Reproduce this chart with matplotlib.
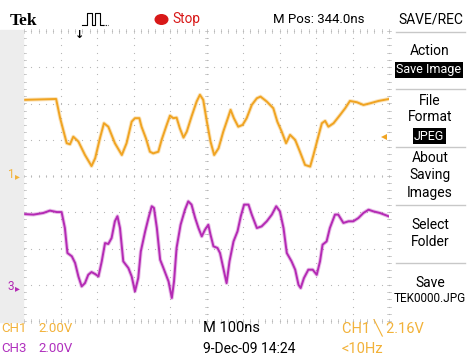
import numpy as np
import matplotlib.pyplot as plt
from matplotlib.lines import Line2D
from matplotlib.patches import Rectangle, Circle

# channel 1 trace: time (ns) and voltage (V)
ch1_t = [0, 88, 99, 117, 126, 135, 149, 167, 185, 195, 208, 219, 231, 249, 268, 281,
         295, 304, 316, 322, 334, 345, 354, 368, 377, 391, 400, 409, 418, 427, 437,
         446, 459, 473, 482, 491, 501, 511, 521, 533, 546, 560, 566, 575, 587, 599,
         610, 624, 638, 648, 665, 683, 694, 706, 718, 729, 743, 756, 770, 784, 793,
         805, 816, 825, 834, 848, 866, 880, 893, 912, 930, 948, 971, 1000]
ch1_v = [4.20, 4.25, 3.19, 1.81, 1.75, 2.17, 1.90, 1.16, 0.55, 0.98, 2.08, 2.91, 2.72,
         1.81, 1.16, 1.81, 3.00, 3.19, 3.19, 2.72, 2.08, 1.34, 1.25, 1.34, 1.99, 2.82,
         3.33, 3.19, 3.22, 2.63, 2.12, 2.45, 3.28, 4.11, 4.48, 4.20, 3.00, 1.90, 1.16,
         1.53, 2.45, 3.28, 3.65, 3.19, 2.72, 2.82, 3.19, 3.92, 4.29, 4.38, 4.11, 3.74,
         3.00, 2.45, 1.81, 2.27, 1.99, 1.34, 0.61, 0.52, 1.16, 2.08, 2.91, 3.04, 2.72,
         2.91, 3.37, 3.74, 4.14, 4.07, 3.92, 4.01, 4.14, 4.25]

# channel 3 trace
ch3_t = [0, 26, 53, 71, 90, 103, 112, 119, 131, 140, 149, 158, 167, 176, 185, 195,
         204, 213, 222, 231, 240, 249, 256, 263, 272, 286, 295, 304, 313, 320, 332,
         341, 350, 356, 364, 373, 382, 396, 405, 411, 418, 429, 441, 450, 459, 469,
         478, 487, 496, 505, 511, 519, 530, 537, 546, 555, 563, 574, 585, 594, 603,
         615, 624, 638, 651, 665, 679, 691, 701, 711, 720, 733, 743, 752, 758, 767,
         779, 791, 802, 811, 818, 829, 838, 852, 861, 875, 889, 902, 916, 930, 944,
         957, 975, 1000]
ch3_v = [3.90, 3.87, 3.96, 4.09, 4.01, 4.01, 3.13, 1.75, 1.57, 1.20, 0.46, -0.09, 0.09,
         0.55, 0.70, 0.59, 0.46, 1.29, 2.30, 2.25, 2.58, 3.50, 3.78, 3.13, 1.29, 0.92,
         0.46, -0.37, 0.37, 1.84, 2.95, 3.68, 4.33, 4.24, 3.13, 1.38, 0.92, 0.18, -0.73,
         0.18, 2.03, 3.31, 4.14, 4.60, 4.42, 3.68, 3.13, 2.67, 3.04, 3.31, 2.76, 2.12,
         2.03, 1.75, 0.92, 0.09, 1.29, 2.39, 2.95, 3.78, 4.42, 4.42, 3.87, 3.13, 3.22,
         3.50, 3.87, 4.33, 4.05, 3.13, 1.75, 1.29, 0.83, 0.00, -0.18, 0.37, 0.83, 0.83,
         0.55, 1.29, 2.21, 2.39, 3.13, 3.87, 3.87, 3.41, 3.50, 3.50, 3.68, 3.96, 4.14,
         4.05, 3.96, 3.77]

volts_per_div = 2.0
ns_per_div = 100
ch1_offset = 0      # ground marker position, in divisions from centre
ch3_offset = -3
trig_level = 2.16

ch1_color = '#F0A422'
ch3_color = '#B42AB4'
ch1_text = '#F2B23A'
ch3_text = '#B030BE'
grid_color = '#B8B8B8'

W, H = 470, 358
font = ['Roboto', 'DejaVu Sans']

fig = plt.figure(figsize=(W / 100, H / 100), dpi=100)
fig.patch.set_facecolor('white')


def fx(x):
    return x / W


def fy(y):
    return 1 - y / H


def label(x, y, s, size=9, color='black', ha='left', **kw):
    fig.text(fx(x), fy(y), s, fontsize=size, color=color, ha=ha, va='center',
             family=font, **kw)


# grey strip to the left of the graticule
fig.patches.append(Rectangle((0, fy(322)), fx(23), fy(30) - fy(322),
                             transform=fig.transFigure, color='#EDEDED', zorder=0))

# graticule: 10 x 8 divisions
ax = fig.add_axes([fx(24), fy(321), fx(389) - fx(24), fy(31) - fy(321)])
ax.set_xlim(0, 10)
ax.set_ylim(-4, 4)
ax.set_facecolor('white')
for s in ax.spines.values():
    s.set_visible(False)
ax.set_xticks([])
ax.set_yticks([])

minor = np.arange(0, 10.01, 0.2)
minor_y = np.arange(-4, 4.01, 0.2)
for gy in range(-4, 5):
    ax.plot(minor, np.full_like(minor, gy), ls='none', marker='s', ms=0.8,
            color=grid_color, mew=0, clip_on=False)
for gx in range(0, 11):
    ax.plot(np.full_like(minor_y, gx), minor_y, ls='none', marker='s', ms=0.8,
            color=grid_color, mew=0, clip_on=False)
# tick marks along the border and the centre lines
for gy, ln in [(-4, 0.1), (4, 0.1), (0, 0.08)]:
    for mx in minor:
        ax.plot([mx, mx], [gy - ln / 2, gy + ln / 2], color=grid_color, lw=0.5,
                clip_on=False)
for gx, ln in [(0, 0.1), (10, 0.1), (5, 0.08)]:
    for my in minor_y:
        ax.plot([gx - ln / 2, gx + ln / 2], [my, my], color=grid_color, lw=0.5,
                clip_on=False)

# traces, with a soft halo for the phosphor look
t1 = np.array(ch1_t) / ns_per_div
t3 = np.array(ch3_t) / ns_per_div
y1 = np.array(ch1_v) / volts_per_div + ch1_offset
y3 = np.array(ch3_v) / volts_per_div + ch3_offset
for t, y, c in [(t1, y1, ch1_color), (t3, y3, ch3_color)]:
    ax.plot(t, y, color=c, lw=2.8, alpha=0.3, solid_joinstyle='round')
    ax.plot(t, y, color=c, lw=1.4, solid_joinstyle='round')

# trigger level arrow on the right edge
ax.plot(9.85, trig_level / volts_per_div + ch1_offset, marker='<', ms=5,
        color=ch1_color, mew=0, clip_on=False)

# ground markers
label(8, 175, '1', 8.5, ch1_text)
fig.text(fx(15), fy(176), '▸', fontsize=7, color=ch1_text, va='center',
         family='DejaVu Sans')
label(8, 287, '3', 8.5, ch3_color)
fig.text(fx(15), fy(288), '▸', fontsize=7, color=ch3_color, va='center',
         family='DejaVu Sans')

# top status bar
fig.text(fx(10), fy(21), 'Tek', fontsize=12.5, fontweight='bold',
         family=['Liberation Serif', 'DejaVu Serif'], va='center')
pulse_x = [82, 87, 87, 92, 92, 95, 95, 100, 100, 103]
pulse_y = [25, 25, 13, 13, 25, 25, 13, 13, 25, 25]
fig.lines.append(Line2D([fx(v) for v in pulse_x], [fy(v) for v in pulse_y],
                        transform=fig.transFigure, color='black', lw=0.8))
fig.lines.append(Line2D([fx(103), fx(108)], [fy(25), fy(25)], transform=fig.transFigure,
                        color='black', lw=0.8, ls=(0, (1, 1))))
fig.text(fx(80), fy(35), '↓', fontsize=8, fontweight='bold', ha='center', va='center',
         family='DejaVu Sans')
fig.patches.append(Circle((fx(161.5), fy(19.5)), 6.3 / W, transform=fig.transFigure,
                          color='#D81818'))
label(172, 19.5, 'Stop', 9.8, '#D81818')
label(273, 19.5, 'M Pos: 344.0ns', 9.5)
label(431, 19.5, 'SAVE/REC', 10, ha='center')

# side menu
sep_y = [32, 89, 147, 205, 263]
for sy in sep_y:
    fig.lines.append(Line2D([fx(396), fx(465)], [fy(sy), fy(sy)],
                            transform=fig.transFigure, color='#C8C8C8', lw=1.0))
label(430, 51, 'Action', 10, ha='center')
label(429, 70, 'Save Image', 9, 'white', ha='center',
      bbox=dict(facecolor='black', edgecolor='none', pad=1.0))
label(430, 101, 'File', 10, ha='center')
label(430, 117, 'Format', 10, ha='center')
label(429, 136, 'JPEG', 9, 'white', ha='center',
      bbox=dict(facecolor='black', edgecolor='none', pad=1.0))
label(430, 158, 'About', 10, ha='center')
label(430, 175, 'Saving', 10, ha='center')
label(430, 193, 'Images', 10, ha='center')
label(430, 225, 'Select', 10, ha='center')
label(430, 242, 'Folder', 10, ha='center')
label(430, 283, 'Save', 10, ha='center')
label(430, 299, 'TEK0000.JPG', 8.5, ha='center')

# bottom readouts
label(1, 328, 'CH1', 9.5, ch1_text)
label(38, 328, '2.00V', 9.5, ch1_text)
label(1, 349, 'CH3', 9.5, ch3_text)
label(38, 349, '2.00V', 9.5, ch3_text)
label(203, 328, 'M 100ns', 10.5)
label(203, 349, '9-Dec-09 14:24', 10)
label(342, 328, 'CH1 ╲ 2.16V', 10.5, ch1_text)
label(342, 349, '<10Hz', 10.5, ch1_text)

fig.savefig('out.png', dpi=100)
